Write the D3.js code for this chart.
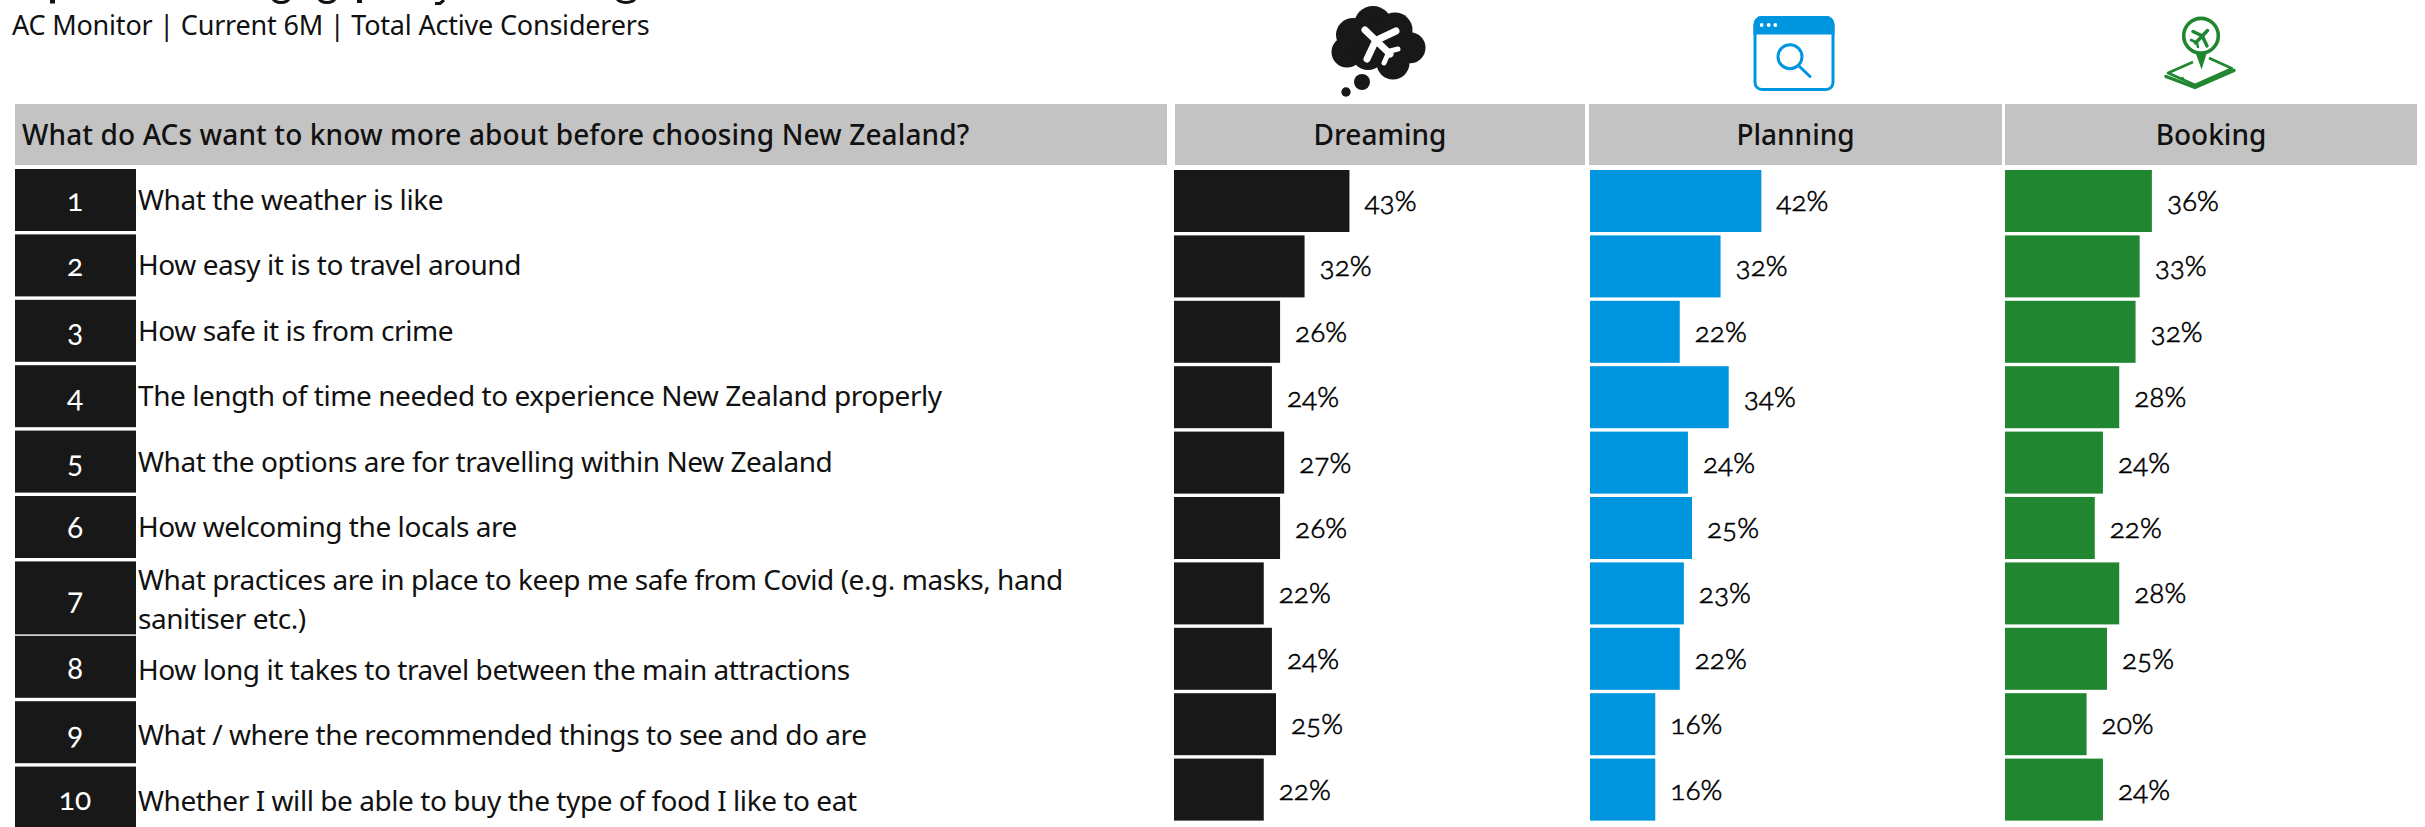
<!DOCTYPE html>
<html>
<head>
<meta charset="utf-8">
<script src="https://cdn.jsdelivr.net/npm/d3@7"></script>
<style>
html,body{margin:0;padding:0;background:#fff;overflow:hidden}
svg{display:block}
text{font-family:"Noto Sans",sans-serif;fill:#111}
.num,.pct{font-family:"Lato",sans-serif;font-variant-numeric:oldstyle-nums;font-feature-settings:"onum" 1}
.pct{font-weight:300;stroke:#000;stroke-width:.6;fill:#000}
</style>
</head>
<body>
<svg id="chart" width="2425" height="827"></svg>
<script>
const subtitle = "AC Monitor | Current 6M | Total Active Considerers";
const question = "What do ACs want to know more about before choosing New Zealand?";
const stages = ["Dreaming", "Planning", "Booking"];
const stageColors = ["#181818", "#0095df", "#208630"];
const topics = [
  ["What the weather is like"],
  ["How easy it is to travel around"],
  ["How safe it is from crime"],
  ["The length of time needed to experience New Zealand properly"],
  ["What the options are for travelling within New Zealand"],
  ["How welcoming the locals are"],
  ["What practices are in place to keep me safe from Covid (e.g. masks, hand", "sanitiser etc.)"],
  ["How long it takes to travel between the main attractions"],
  ["What / where the recommended things to see and do are"],
  ["Whether I will be able to buy the type of food I like to eat"]
];
const dreaming = [43, 32, 26, 24, 27, 26, 22, 24, 25, 22];
const planning = [42, 32, 22, 34, 24, 25, 23, 22, 16, 16];
const booking  = [36, 33, 32, 28, 24, 22, 28, 25, 20, 24];
const seriesValues = [dreaming, planning, booking];

const svg = d3.select("#chart");
const x = d3.scaleLinear().domain([0, 100]).range([0, 408]);
const rowY = d3.scaleLinear().domain([0, 1]).range([170, 235.4]);
const columnX = d3.scaleOrdinal().domain(stages).range([1174, 1590, 2005]);
const headerBands = [[1175, 410], [1589, 413], [2005, 412]];

// descenders of the headline, which runs off the top edge of the page
const headlineStems = [[50, 5, 3.5], [357, 5, 3]];
const headlineBowls = [[281, 8], [327, 8], [626, 9]];
svg.selectAll("rect.stem").data(headlineStems).join("rect").attr("class", "stem")
  .attr("x", d => d[0]).attr("y", 0).attr("width", d => d[1]).attr("height", d => d[2]).attr("fill", "#111");
svg.selectAll("ellipse.bowl").data(headlineBowls).join("ellipse").attr("class", "bowl")
  .attr("cx", d => d[0]).attr("cy", -2).attr("rx", d => d[1]).attr("ry", 4.5)
  .attr("fill", "none").attr("stroke", "#111").attr("stroke-width", 3);
svg.append("path").attr("d", "M444,0L440,3.5H435").attr("fill", "none").attr("stroke", "#111").attr("stroke-width", 3);

svg.append("text").attr("x", 12).attr("y", 35).attr("font-size", 27).attr("letter-spacing", -0.2).text(subtitle);

// header band
svg.append("rect").attr("x", 15).attr("y", 104).attr("width", 1152).attr("height", 61).attr("fill", "#c3c3c3");
svg.append("text").attr("x", 22).attr("y", 145).attr("font-size", 28).attr("font-weight", 500).attr("letter-spacing", 0.12).text(question);
stages.forEach((s, i) => {
  svg.append("rect").attr("x", headerBands[i][0]).attr("y", 104).attr("width", headerBands[i][1]).attr("height", 61).attr("fill", "#c3c3c3");
  svg.append("text").attr("x", headerBands[i][0] + headerBands[i][1] / 2).attr("y", 145).attr("font-size", 28).attr("font-weight", 500)
    .attr("text-anchor", "middle").text(s);
});

// numbered rows with their topic text; rows after the two-line one sit lower
const rows = svg.selectAll("g.row").data(topics).join("g").attr("class", "row");
rows.append("rect").attr("x", 15).attr("width", 121)
  .attr("y", (d, i) => rowY(i) - 1 + (i > 6 ? 9 : 0))
  .attr("height", (d, i) => i === 6 ? 73 : 62)
  .attr("fill", "#181818");
rows.append("text").attr("class", "num").attr("x", 75).attr("text-anchor", "middle")
  .attr("y", (d, i) => rowY(i) + (i === 6 ? 48 : 41) + (i > 6 ? 10 : 0))
  .attr("font-size", 30).style("fill", "#fff").text((d, i) => i + 1);
rows.each(function (lines, i) {
  const g = d3.select(this);
  lines.forEach((line, k) => {
    g.append("text").attr("x", 138).attr("font-size", 28).attr("letter-spacing", -0.44)
      .attr("y", rowY(i) + (i === 6 ? 27.5 + 39 * k : 40) + (i > 6 ? 12 : 0))
      .text(line);
  });
});

// one bar column per stage
stages.forEach((stage, s) => {
  const col = svg.append("g").attr("transform", `translate(${columnX(stage)},0)`);
  col.selectAll("rect").data(seriesValues[s]).join("rect")
    .attr("x", 0).attr("y", (d, i) => rowY(i))
    .attr("width", d => x(d)).attr("height", 62)
    .attr("fill", stageColors[s]);
  col.selectAll("text").data(seriesValues[s]).join("text")
    .attr("class", "pct")
    .attr("x", d => x(d) + 15).attr("y", (d, i) => rowY(i) + 41)
    .attr("font-size", 28).text(d => d + "%");
});

// a small aeroplane glyph, nose to the upper left
function plane(g, scale, colour) {
  const p = g.append("g").attr("transform", `scale(${scale})`)
    .attr("fill", "none").attr("stroke", colour).attr("stroke-linecap", "round");
  p.append("path").attr("d", "M-13,-13L12,11").attr("stroke-width", 7);
  p.append("path").attr("d", "M-1,-3L18,-12M-3,-1L-11,16").attr("stroke-width", 7);
  p.append("path").attr("d", "M12,8L20,6M10,11L6,20").attr("stroke-width", 5);
}

// stage icons above the header band
const cloud = svg.append("g").attr("fill", stageColors[0]);
[[1373, 25, 19], [1395, 30, 17.5], [1410, 47.7, 15.5], [1393, 63, 16.5], [1368, 53, 17],
 [1347, 52, 15.5], [1353, 35, 17], [1377, 43, 22], [1362, 82, 8], [1346, 92, 4.7]]
  .forEach(c => cloud.append("circle").attr("cx", c[0]).attr("cy", c[1]).attr("r", c[2]));
plane(svg.append("g").attr("transform", "translate(1378,43)"), 1, "#fff");

const win = svg.append("g").attr("fill", "none").attr("stroke", stageColors[1]).attr("stroke-width", 3);
win.append("rect").attr("x", 1755).attr("y", 17.5).attr("width", 78).attr("height", 72).attr("rx", 7);
win.append("path").attr("d", "M1755,33V24.5a7,7 0 0 1 7,-7H1826a7,7 0 0 1 7,7V33Z").attr("fill", stageColors[1]);
[1761.7, 1768.7, 1775.3].forEach(cx => svg.append("circle").attr("cx", cx).attr("cy", 25).attr("r", 1.9).attr("fill", "#fff"));
win.append("circle").attr("cx", 1790).attr("cy", 56.7).attr("r", 12);
win.append("path").attr("d", "M1799,66L1810,76.5").attr("stroke-linecap", "round");

const pin = svg.append("g").attr("fill", "none").attr("stroke", stageColors[2]);
pin.append("circle").attr("cx", 2201).attr("cy", 35.7).attr("r", 17.3).attr("stroke-width", 3.6);
pin.append("path").attr("d", "M2196,54L2206.5,54L2201.6,69.5Z").attr("fill", stageColors[2]).attr("stroke", "none");
pin.append("path").attr("d", "M2193,62L2168,73L2195,85L2232,68.5L2209,58").attr("stroke-width", 2.6).attr("stroke-linejoin", "round");
pin.append("path").attr("d", "M2166,76.5L2195,87.5L2234,70.5").attr("stroke-width", 3.4).attr("stroke-linecap", "round");
pin.append("circle").attr("cx", 2182.5).attr("cy", 78.3).attr("r", 1).attr("fill", stageColors[2]);
plane(svg.append("g").attr("transform", "translate(2201,37) rotate(90)"), 0.5, stageColors[2]);
</script>
</body>
</html>
